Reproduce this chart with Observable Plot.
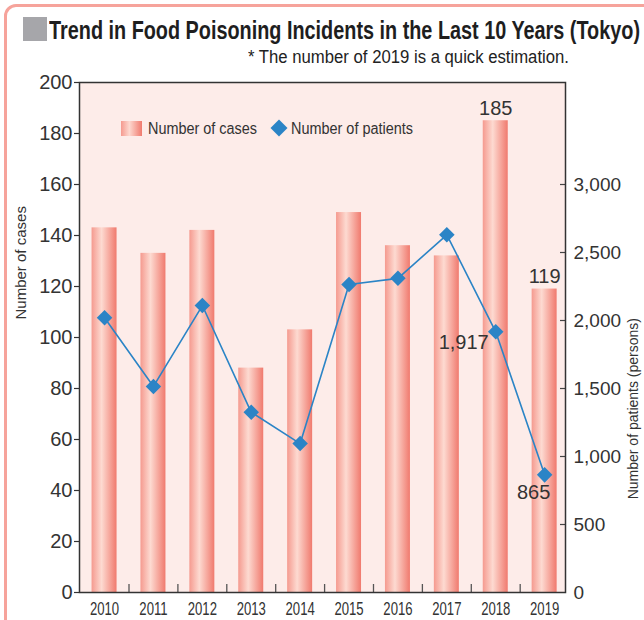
<!DOCTYPE html>
<html><head><meta charset="utf-8">
<script src="https://cdn.jsdelivr.net/npm/d3@7"></script>
<script src="https://cdn.jsdelivr.net/npm/@observablehq/plot@0.6"></script>
<style>
body{margin:0;background:#fff;font-family:"Liberation Sans",Arial,sans-serif;color:#222;}
#page{position:relative;width:644px;height:620px;overflow:hidden;background:#fff;}
#frame{position:absolute;left:4px;top:4px;width:720px;height:720px;border:3px solid #f6a39b;border-radius:12px;box-sizing:border-box;}
#sq{position:absolute;left:23px;top:17px;width:24px;height:24px;background:#a6a6aa;}
.fit{position:absolute;white-space:nowrap;line-height:1;transform-origin:0 0;}
#title{left:49px;top:17px;font-weight:bold;font-size:26px;color:#1e1e1e;}
#sub{left:248px;top:49px;font-size:17.5px;color:#222;}
#chart{position:absolute;left:0;top:70px;}
.leg{font-size:16px;color:#333;}
#sw{position:absolute;left:121px;top:121px;width:21px;height:15px;background:linear-gradient(to right,#f59a8f,#fdd8cf 40%,#f07a6e);}
#dm{position:absolute;left:272.5px;top:122px;width:12px;height:12px;background:#2b84c6;transform:rotate(45deg);}
</style></head>
<body>
<div id="page">
  <div id="frame"></div>
  <div id="sq"></div>
  <div id="title" class="fit" data-w="591">Trend in Food Poisoning Incidents in the Last 10 Years (Tokyo)</div>
  <div id="sub" class="fit" data-w="321">* The number of 2019 is a quick estimation.</div>
  <div id="chart"></div>
  <div id="sw"></div>
  <div id="l1" class="fit leg" data-w="109" style="left:148px;top:121px;">Number of cases</div>
  <div id="dm"></div>
  <div id="l2" class="fit leg" data-w="122" style="left:291px;top:121px;">Number of patients</div>
</div>
<script>
const years = [2010, 2011, 2012, 2013, 2014, 2015, 2016, 2017, 2018, 2019];
const cases = [143, 133, 142, 88, 103, 149, 136, 132, 185, 119];
const patients = [2020, 1515, 2110, 1325, 1095, 2265, 2310, 2630, 1917, 865];
const caseTicks = [0, 20, 40, 60, 80, 100, 120, 140, 160, 180, 200];
const patientTicks = [0, 500, 1000, 1500, 2000, 2500, 3000];
const caseMax = 200;
const patientMax = 3750;
const labeledCaseYears = [2018, 2019];
const labeledPatientYears = [2018, 2019];
const leftTitle = "Number of cases";
const rightTitle = "Number of patients (persons)";

const k = caseMax / patientMax;
const data = years.map((y, i) => ({year: y, cases: cases[i], patients: patients[i], p: patients[i] * k}));
const fmt = d3.format(",");

const W = 644, H = 550, mt = 12, mb = 28, ml = 79, mr = 79;
const pi = 0.489, po = 0.214, n = years.length;
const step = (W - ml - mr) / (n - pi + 2 * po);
const blue = "#2b84c6";
const txt = "#333";

const defs = () => {
  const s = d3.create("svg:defs");
  const g = s.append("linearGradient").attr("id", "barGrad")
    .attr("x1", 0).attr("x2", 1).attr("y1", 0).attr("y2", 0);
  [[0, "#f59a8f"], [0.4, "#fddad1"], [1, "#f07a6e"]].forEach(([o, c]) =>
    g.append("stop").attr("offset", o).attr("stop-color", c));
  return s.node();
};

const pLab = data.filter(d => labeledPatientYears.includes(d.year));

const chart = Plot.plot({
  width: W, height: H, marginTop: mt, marginBottom: mb, marginLeft: ml, marginRight: mr,
  style: {background: "transparent", fontFamily: "Liberation Sans, Arial, sans-serif", color: txt},
  x: {type: "band", domain: years, paddingInner: pi, paddingOuter: po, align: 0.6, round: false, axis: null},
  y: {domain: [0, caseMax], axis: null},
  marks: [
    defs,
    Plot.frame({fill: "#fdece9", stroke: null}),
    Plot.barY(data, {x: "year", y: "cases", fill: "url(#barGrad)"}),
    Plot.ruleX(years.slice(1), {x: d => d, dx: -step / 2, insetTop: (H - mt - mb) - 8, stroke: "#555", strokeWidth: 1.3}),
    Plot.ruleY(patientTicks.slice(1).map(v => v * k), {y: d => d, insetLeft: (W - ml - mr) - 5, stroke: "#444", strokeWidth: 1.2}),
    Plot.axisY({ticks: caseTicks, anchor: "left", tickSize: 5, tickPadding: 2, fontSize: 20, label: null, stroke: "#333", strokeWidth: 1.2, color: txt}),
    Plot.axisY({ticks: patientTicks.map(v => v * k), anchor: "right", tickSize: 0, tickPadding: 8, fontSize: 19, label: null, color: txt,
      tickFormat: d => fmt(Math.round(d / k))}),
    Plot.axisX({anchor: "bottom", tickSize: 0, tickPadding: 10, fontSize: 18, label: null, color: txt, tickFormat: d => String(d)}),
    Plot.frame({stroke: "#333", strokeWidth: 1.5}),
    Plot.lineY(data, {x: "year", y: "p", stroke: blue, strokeWidth: 1.6}),
    Plot.dot(data, {x: "year", y: "p", symbol: "diamond2", r: 7, fill: blue, stroke: null}),
    Plot.text(data.filter(d => labeledCaseYears.includes(d.year)), {x: "year", y: "cases", text: d => String(d.cases),
      dy: -12.5, fontSize: 20, fill: txt, ariaLabel: "vlabel"}),
    Plot.text(pLab.slice(0, 1), {x: "year", y: "p", text: d => fmt(d.patients), dx: -7, dy: 11,
      textAnchor: "end", fontSize: 20, fill: txt, ariaLabel: "vlabel"}),
    Plot.text(pLab.slice(1), {x: "year", y: "p", text: d => fmt(d.patients), dx: -11, dy: 18,
      fontSize: 20, fill: txt, ariaLabel: "vlabel"}),
    Plot.text([leftTitle], {text: d => d, frameAnchor: "left", dx: -58, dy: -18, rotate: -90, fontSize: 15, fill: txt}),
    Plot.text([rightTitle], {text: d => d, frameAnchor: "right", dx: 68.5, dy: -19.5, rotate: -90, fontSize: 14, fill: txt})
  ]
});
document.getElementById("chart").appendChild(chart);

function condense(el, s) {
  const len = el.getComputedTextLength();
  el.setAttribute("textLength", (len * s).toFixed(2));
  el.setAttribute("lengthAdjust", "spacingAndGlyphs");
}
chart.querySelectorAll('g[aria-label="x-axis tick label"] text').forEach(e => condense(e, 0.73));
chart.querySelectorAll('g[aria-label="vlabel"] text').forEach(e => condense(e, 0.92));

document.querySelectorAll(".fit").forEach(el => {
  const w = el.getBoundingClientRect().width;
  el.style.transform = `scaleX(${(+el.dataset.w) / w})`;
});
</script>
</body></html>
